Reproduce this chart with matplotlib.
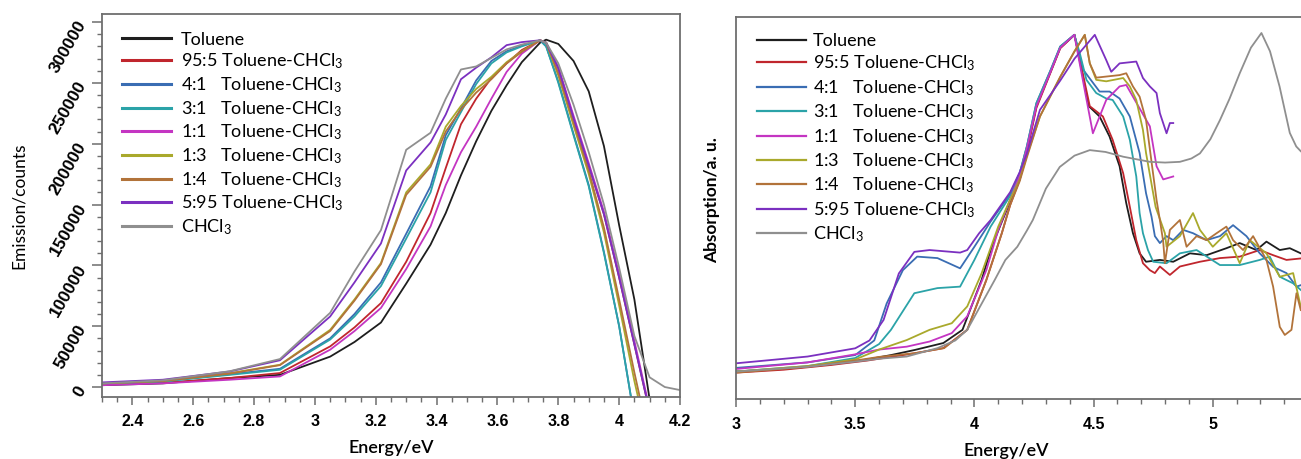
import numpy as np
import matplotlib
matplotlib.use("Agg")
import matplotlib.pyplot as plt
from matplotlib.ticker import MultipleLocator, FuncFormatter

nan = np.nan

# ---------------- data: emission (left) ----------------
em_energy = [2.3, 2.5, 2.72, 2.885, 3.05, 3.13, 3.217, 3.3, 3.38, 3.43, 3.48, 3.53, 3.58,
             3.63, 3.68, 3.74, 3.76, 3.8, 3.85, 3.9, 3.95, 4.0, 4.05, 4.1, 4.15, 4.2]
em_toluene = [1.5e3, 3e3, 7.4e3, 10e3, 25e3, 37e3, 53e3, 85e3, 117e3, 143e3, 174e3, 202e3, 227e3,
              248e3, 267e3, 283e3, 285.5e3, 282e3, 268e3, 243e3, 198e3, 133e3, 72e3, -10e3, nan, nan]
em_95_5 = [2e3, 3.5e3, 7.4e3, 11.5e3, 33.4e3, 49e3, 69e3, 103e3, 143e3, 180e3, 216e3, 237e3, 254e3,
           266e3, 277e3, 285e3, 283e3, 262e3, 221e3, 182e3, 142e3, 90e3, 35e3, -20e3, nan, nan]
em_4_1 = [2.7e3, 4.8e3, 10.5e3, 15e3, 40e3, 60e3, 86e3, 126e3, 165e3, 207e3, 229e3, 252e3, 268e3,
          276e3, 280.5e3, 285e3, 280e3, 251e3, 208e3, 166e3, 111e3, 50e3, -25e3, nan, nan, nan]
em_3_1 = [2.5e3, 4.5e3, 10e3, 14.2e3, 39e3, 58e3, 83e3, 122e3, 160e3, 203e3, 226e3, 249e3, 266e3,
          275e3, 280e3, 285e3, 280e3, 250e3, 207e3, 165e3, 110e3, 50e3, -25e3, nan, nan, nan]
em_1_1 = [1.5e3, 3e3, 6e3, 8.7e3, 30.7e3, 46e3, 65e3, 97e3, 132e3, 166e3, 193e3, 214e3, 237e3,
          259e3, 274e3, 285e3, 283e3, 263e3, 223e3, 184e3, 144e3, 93e3, 38e3, -18e3, nan, nan]
em_1_3 = [3e3, 5e3, 11.4e3, 18.3e3, 47e3, 72e3, 102e3, 160e3, 183e3, 214e3, 231e3, 245e3, 255e3,
          267e3, 276e3, 285e3, 283e3, 256e3, 215e3, 175e3, 127e3, 67e3, 5e3, -50e3, nan, nan]
em_1_4 = [3e3, 5e3, 11e3, 18e3, 46e3, 71e3, 101e3, 158e3, 181e3, 210e3, 228e3, 242e3, 253e3,
          266e3, 275.5e3, 285e3, 283e3, 258e3, 218e3, 178e3, 131e3, 72e3, 12e3, -45e3, nan, nan]
em_5_95 = [3.8e3, 6e3, 12.8e3, 22e3, 58e3, 86e3, 118e3, 178e3, 201e3, 224e3, 253e3, 262.5e3, 271e3,
           281e3, 283.5e3, 285e3, 283e3, 262e3, 221e3, 182e3, 142e3, 90e3, 35e3, -20e3, nan, nan]
em_chcl3 = [3e3, 5.5e3, 13e3, 23e3, 61e3, 95e3, 129e3, 195e3, 209e3, 237e3, 261e3, 263.5e3, 270.5e3,
            277.5e3, 281.5e3, 285e3, 283e3, 266e3, 232e3, 193e3, 150e3, 98e3, 42e3, 8e3, 0, -2.5e3]

# ---------------- data: absorption (right) ----------------
ab_toluene_E = [3.0, 3.2, 3.4, 3.55, 3.65, 3.75, 3.87, 3.95, 4.03, 4.07, 4.1, 4.15, 4.19, 4.22, 4.26,
                4.32, 4.36, 4.42, 4.48, 4.525, 4.567, 4.609, 4.637, 4.665, 4.693, 4.72, 4.778, 4.834,
                4.904, 4.974, 5.057, 5.113, 5.183, 5.225, 5.281, 5.323, 5.369]
ab_toluene = [0.075, 0.082, 0.095, 0.108, 0.12, 0.134, 0.153, 0.189, 0.325, 0.41, 0.46, 0.54, 0.60,
              0.68, 0.80, 0.895, 0.96, 0.995, 0.80, 0.772, 0.717, 0.636, 0.535, 0.453, 0.398, 0.375,
              0.38, 0.375, 0.398, 0.393, 0.412, 0.426, 0.407, 0.43, 0.407, 0.412, 0.398]
ab_95_5_E = [3.0, 3.2, 3.4, 3.55, 3.65, 3.75, 3.87, 3.97, 4.05, 4.115, 4.15, 4.19, 4.22, 4.26, 4.32,
             4.36, 4.42, 4.484, 4.539, 4.58, 4.624, 4.652, 4.679, 4.707, 4.736, 4.757, 4.778, 4.82,
             4.862, 4.946, 5.03, 5.113, 5.197, 5.253, 5.309, 5.369]
ab_95_5 = [0.072, 0.08, 0.093, 0.105, 0.115, 0.125, 0.139, 0.189, 0.325, 0.453, 0.53, 0.60, 0.675,
           0.795, 0.893, 0.958, 0.995, 0.80, 0.772, 0.708, 0.617, 0.525, 0.434, 0.371, 0.352, 0.344,
           0.362, 0.339, 0.362, 0.375, 0.385, 0.389, 0.407, 0.393, 0.38, 0.384]
ab_4_1_E = [3.0, 3.3, 3.5, 3.58, 3.632, 3.7, 3.76, 3.845, 3.94, 4.0, 4.068, 4.15, 4.19, 4.22, 4.26,
            4.32, 4.36, 4.419, 4.457, 4.525, 4.567, 4.609, 4.652, 4.693, 4.72, 4.743, 4.757, 4.778,
            4.806, 4.834, 4.876, 4.917, 4.974, 5.03, 5.085, 5.141, 5.197, 5.253, 5.309, 5.351, 5.369]
ab_4_1 = [0.085, 0.1, 0.12, 0.16, 0.261, 0.352, 0.389, 0.385, 0.357, 0.416, 0.485, 0.56, 0.617, 0.69,
          0.808, 0.899, 0.963, 0.995, 0.899, 0.84, 0.84, 0.821, 0.772, 0.672, 0.562, 0.498, 0.445,
          0.426, 0.445, 0.434, 0.462, 0.453, 0.434, 0.445, 0.475, 0.445, 0.398, 0.361, 0.344, 0.307,
          0.311]
ab_3_1_E = [3.0, 3.3, 3.5, 3.6, 3.65, 3.748, 3.845, 3.94, 4.0, 4.068, 4.15, 4.19, 4.22, 4.26, 4.32,
            4.36, 4.419, 4.442, 4.47, 4.511, 4.553, 4.58, 4.624, 4.652, 4.679, 4.693, 4.707, 4.728,
            4.75, 4.806, 4.862, 4.932, 5.03, 5.113, 5.197, 5.239, 5.281, 5.337, 5.369]
ab_3_1 = [0.075, 0.09, 0.112, 0.15, 0.189, 0.289, 0.303, 0.307, 0.38, 0.471, 0.555, 0.617, 0.69,
          0.808, 0.899, 0.963, 0.995, 0.945, 0.872, 0.836, 0.821, 0.817, 0.772, 0.708, 0.608, 0.508,
          0.453, 0.407, 0.375, 0.371, 0.398, 0.407, 0.366, 0.366, 0.38, 0.389, 0.334, 0.316, 0.298]
ab_1_1_E = [3.0, 3.3, 3.5, 3.6, 3.716, 3.812, 3.905, 3.97, 4.05, 4.1, 4.15, 4.19, 4.22, 4.26, 4.32,
            4.36, 4.419, 4.497, 4.553, 4.609, 4.637, 4.665, 4.736, 4.764, 4.792, 4.834]
ab_1_1 = [0.082, 0.1, 0.122, 0.135, 0.143, 0.157, 0.18, 0.226, 0.352, 0.462, 0.545, 0.61, 0.685,
          0.80, 0.895, 0.96, 0.995, 0.726, 0.817, 0.854, 0.858, 0.826, 0.745, 0.636, 0.60, 0.608]
ab_1_3_E = [3.0, 3.3, 3.5, 3.6, 3.716, 3.812, 3.905, 3.97, 4.03, 4.1, 4.15, 4.19, 4.22, 4.275, 4.36,
            4.42, 4.463, 4.484, 4.511, 4.553, 4.624, 4.652, 4.679, 4.707, 4.72, 4.76, 4.799, 4.806,
            4.862, 4.917, 4.946, 5.0, 5.057, 5.113, 5.155, 5.225, 5.281, 5.337, 5.369]
ab_1_3 = [0.075, 0.09, 0.108, 0.135, 0.161, 0.189, 0.207, 0.253, 0.343, 0.471, 0.545, 0.60, 0.665,
          0.772, 0.88, 0.95, 0.995, 0.917, 0.872, 0.868, 0.877, 0.854, 0.817, 0.735, 0.672, 0.525,
          0.453, 0.416, 0.445, 0.508, 0.462, 0.416, 0.453, 0.371, 0.434, 0.398, 0.334, 0.344, 0.252]
ab_1_4_E = [3.0, 3.3, 3.5, 3.6, 3.748, 3.873, 3.97, 4.05, 4.115, 4.15, 4.19, 4.22, 4.275, 4.36, 4.42,
            4.463, 4.484, 4.511, 4.609, 4.637, 4.665, 4.693, 4.72, 4.764, 4.778, 4.792, 4.799, 4.82,
            4.862, 4.89, 4.932, 4.974, 5.016, 5.057, 5.085, 5.127, 5.169, 5.225, 5.253, 5.281, 5.302,
            5.33, 5.351, 5.369]
ab_1_4 = [0.072, 0.088, 0.105, 0.115, 0.125, 0.139, 0.189, 0.325, 0.453, 0.53, 0.595, 0.66, 0.772,
          0.88, 0.95, 0.995, 0.917, 0.878, 0.885, 0.89, 0.854, 0.826, 0.762, 0.544, 0.489, 0.43, 0.371,
          0.462, 0.489, 0.416, 0.445, 0.434, 0.453, 0.471, 0.434, 0.407, 0.445, 0.38, 0.307, 0.197,
          0.175, 0.189, 0.289, 0.243]
ab_5_95_E = [3.0, 3.3, 3.5, 3.56, 3.619, 3.683, 3.748, 3.812, 3.94, 3.97, 4.02, 4.068, 4.15, 4.19,
             4.22, 4.275, 4.36, 4.42, 4.505, 4.553, 4.574, 4.609, 4.679, 4.707, 4.736, 4.764, 4.778,
             4.806, 4.82, 4.834]
ab_5_95 = [0.0975, 0.116, 0.1385, 0.16, 0.216, 0.343, 0.402, 0.407, 0.40, 0.407, 0.453, 0.489, 0.565,
           0.62, 0.67, 0.79, 0.87, 0.93, 0.995, 0.926, 0.894, 0.917, 0.922, 0.877, 0.854, 0.836, 0.781,
           0.726, 0.754, 0.754]
ab_chcl3_E = [3.0, 3.3, 3.5, 3.6, 3.716, 3.845, 3.92, 3.97, 4.03, 4.085, 4.13, 4.18, 4.22, 4.245,
              4.3, 4.358, 4.42, 4.484, 4.55, 4.624, 4.736, 4.8, 4.862, 4.91, 4.946, 4.99, 5.03, 5.07,
              5.113, 5.16, 5.204, 5.24, 5.28, 5.323, 5.35, 5.369]
ab_chcl3 = [0.075, 0.088, 0.102, 0.11, 0.116, 0.139, 0.16, 0.189, 0.26, 0.325, 0.38, 0.416, 0.46,
            0.489, 0.575, 0.634, 0.665, 0.68, 0.675, 0.662, 0.648, 0.646, 0.648, 0.657, 0.671, 0.71,
            0.762, 0.82, 0.89, 0.96, 1.0, 0.95, 0.854, 0.727, 0.69, 0.677]

labels = ["Toluene", "95:5 Toluene-CHCl$_3$", "4:1   Toluene-CHCl$_3$", "3:1   Toluene-CHCl$_3$",
          "1:1   Toluene-CHCl$_3$", "1:3   Toluene-CHCl$_3$", "1:4   Toluene-CHCl$_3$",
          "5:95 Toluene-CHCl$_3$", "CHCl$_3$"]
colors = ["#1e1e1e", "#c0262d", "#3a6db3", "#2ba3a8", "#c435c2", "#a9a92c", "#b2733a", "#7b30c0", "#8f8f8f"]

em_series = [em_toluene, em_95_5, em_4_1, em_3_1, em_1_1, em_1_3, em_1_4, em_5_95, em_chcl3]
ab_series = [(ab_toluene_E, ab_toluene), (ab_95_5_E, ab_95_5), (ab_4_1_E, ab_4_1), (ab_3_1_E, ab_3_1),
             (ab_1_1_E, ab_1_1), (ab_1_3_E, ab_1_3), (ab_1_4_E, ab_1_4), (ab_5_95_E, ab_5_95),
             (ab_chcl3_E, ab_chcl3)]

# ---------------- style ----------------
plt.rcParams['font.family'] = ['Lato', 'DejaVu Sans']
plt.rcParams['mathtext.fontset'] = 'custom'
plt.rcParams['mathtext.rm'] = 'Lato'
plt.rcParams['mathtext.it'] = 'Lato:italic'
plt.rcParams['mathtext.bf'] = 'Lato:bold'

W, H = 1301, 459
fig = plt.figure(figsize=(W / 100, H / 100), dpi=100)

def px_axes(left, top, right, bottom):
    return fig.add_axes([left / W, 1 - bottom / H, (right - left) / W, (bottom - top) / H])

spine_col = "#6e6e6e"
tickfont = dict(family='Liberation Sans', weight='bold', size=11.5)

def fmt(v, pos):
    return f"{v:g}"

# ---------- left: emission ----------
ax1 = px_axes(102, 14, 680, 397)
for vals, c, lab in zip(em_series, colors, labels):
    ax1.plot(em_energy, vals, color=c, lw=1.3, label=lab)
ax1.set_xlim(2.3, 4.2)
ax1.set_ylim(-8200, 306600)
ax1.xaxis.set_major_locator(MultipleLocator(0.2))
ax1.xaxis.set_minor_locator(MultipleLocator(0.05))
ax1.yaxis.set_major_locator(MultipleLocator(50000))
ax1.yaxis.set_minor_locator(MultipleLocator(10000))
ax1.xaxis.set_major_formatter(FuncFormatter(fmt))
ax1.yaxis.set_major_formatter(FuncFormatter(lambda v, p: f"{int(v)}"))
ax1.tick_params(axis='x', which='major', length=6, width=1.1, color=spine_col, pad=6)
ax1.tick_params(axis='x', which='minor', length=3.5, width=1.0, color=spine_col)
ax1.tick_params(axis='y', which='major', length=7, width=1.1, color=spine_col, pad=7)
ax1.tick_params(axis='y', which='minor', length=3.5, width=1.0, color=spine_col)
for lbl in ax1.get_xticklabels():
    lbl.set_fontproperties(tickfont)
for lbl in ax1.get_yticklabels():
    lbl.set_fontfamily('Liberation Sans')
    lbl.set_fontweight('bold')
    lbl.set_fontsize(12.5)
    lbl.set_rotation(60)
    lbl.set_rotation_mode('anchor')
    lbl.set_ha('right')
    lbl.set_va('center')
for s in ax1.spines.values():
    s.set_color(spine_col)
    s.set_linewidth(1.3)
ax1.set_xlabel("Energy/eV", fontsize=13, fontweight='semibold', labelpad=8)
ax1.set_ylabel("Emission/counts", fontsize=12.5)
ax1.yaxis.set_label_coords(-0.13, 0.5)
leg1 = ax1.legend(loc='upper left', bbox_to_anchor=(0.035, 0.954), frameon=False, fontsize=13,
                  handlelength=2.7, handletextpad=0.55, labelspacing=0.22, borderaxespad=0, borderpad=0)
for h in leg1.get_lines():
    h.set_linewidth(2.2)

# ---------- right: absorption ----------
ax2 = px_axes(736, 17, 1332, 399)
for (E, A), c, lab in zip(ab_series, colors, labels):
    ax2.plot(E, A, color=c, lw=1.3, label=lab)
ax2.set_xlim(3.0, 5.5)
ax2.set_ylim(0, 382 / 366)
ax2.set_xticks([3.0, 3.5, 4.0, 4.5, 5.0])
ax2.xaxis.set_minor_locator(MultipleLocator(0.1))
ax2.xaxis.set_major_formatter(FuncFormatter(fmt))
ax2.set_yticks([])
ax2.tick_params(axis='x', which='major', length=6, width=1.1, color=spine_col, pad=7)
ax2.tick_params(axis='x', which='minor', length=3.5, width=1.0, color=spine_col)
for lbl in ax2.get_xticklabels():
    lbl.set_fontproperties(tickfont)
for s in ax2.spines.values():
    s.set_color(spine_col)
    s.set_linewidth(1.3)
ax2.set_xlabel("Energy/eV", fontsize=13, fontweight='semibold', labelpad=8)
ax2.xaxis.set_label_coords(0.453, -0.115)
ax2.set_ylabel("Absorption/a. u.", fontsize=12.5, fontweight='bold')
ax2.yaxis.set_label_coords(-0.027, 0.52)
leg2 = ax2.legend(loc='upper left', bbox_to_anchor=(0.035, 0.958), frameon=False, fontsize=13,
                  handlelength=2.7, handletextpad=0.4, labelspacing=0.26, borderaxespad=0, borderpad=0)
for h in leg2.get_lines():
    h.set_linewidth(1.6)

fig.savefig("out.png", dpi=100)
